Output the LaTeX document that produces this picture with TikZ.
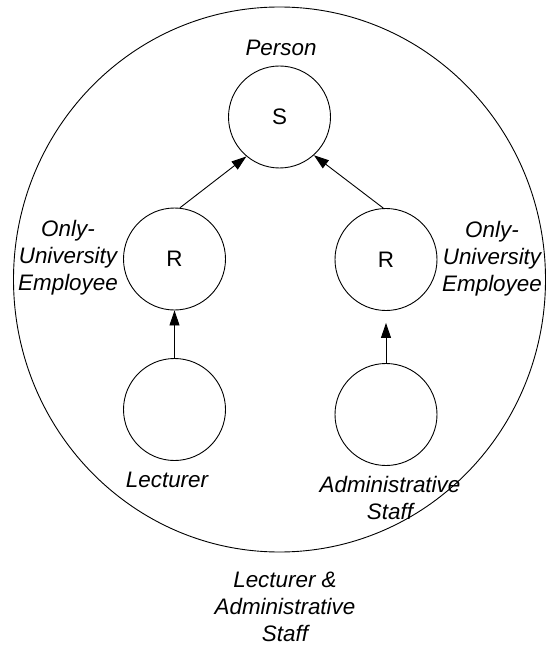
\documentclass[tikz,border=0pt]{standalone}
\usepackage{fontspec}
\setmainfont{Liberation Sans}
\usetikzlibrary{arrows.meta}
\begin{document}
\begin{tikzpicture}[x=1pt,y=-1pt,
  role/.style={draw, circle, minimum size=102pt, inner sep=0pt, line width=0.9pt,
               font=\fontsize{22.4}{27}\selectfont},
  lbl/.style={align=center, inner sep=0pt, font=\fontsize{22.4}{27}\selectfont\itshape},
  link/.style={line width=0.9pt, -{Triangle[length=15pt,width=10pt]}}]
\useasboundingbox (0,0) rectangle (546,647);

% enclosing set
\draw[line width=0.9pt] (279.5,279.5) ellipse [x radius=266, y radius=272.5];

% role circles
\node[role] (s)   at (279.5,117)   {S};
\node[role] (rl)  at (174.5,259)   {R};
\node[role] (rr)  at (386,259.5)   {R};
\node[role] (lec) at (174.5,409.5) {};
\node[role] (adm) at (386,414.5)   {};

% labels
\node[lbl] (lperson) at (281,48)  {Person};
\node[lbl] (lul)     at (68,258)  {Only-\\University\\Employee};
\node[lbl] (lur)     at (492,259) {Only-\\University\\Employee};
\node[lbl] (llec)    at (167,480) {Lecturer};
\node[lbl] (ladm)    at (390,498) {Administrative\\Staff};
\node[lbl] (lboth)   at (285,607) {Lecturer \&\\Administrative\\Staff};

% connectors
\draw[link] (rl.84) -- (s.-130);
\draw[link] (rr.93) -- (s.-48);
\draw[link] (lec.north) -- (rl.south);
\draw[link, shorten >=12pt] (adm.north) -- (rr.south);
\end{tikzpicture}
\end{document}
